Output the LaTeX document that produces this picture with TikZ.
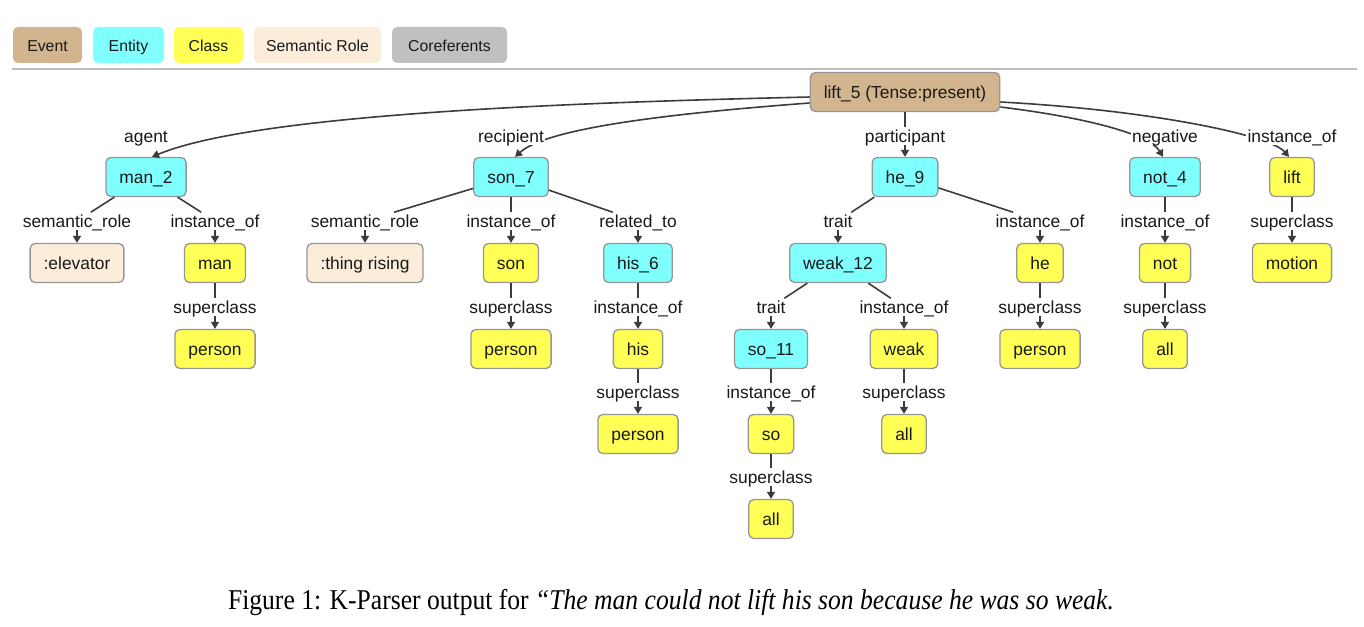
\documentclass[tikz,border=0pt]{standalone}
\usepackage{fontspec}
\setmainfont{Liberation Sans}
\newfontfamily\capfont{Liberation Serif}
\usetikzlibrary{arrows.meta}
\definecolor{evtc}{RGB}{210,181,142}
\definecolor{entc}{RGB}{128,255,255}
\definecolor{clsc}{RGB}{255,255,85}
\definecolor{semc}{RGB}{251,237,218}
\definecolor{corc}{RGB}{192,192,192}
\definecolor{boxline}{RGB}{150,150,150}
\definecolor{edgec}{RGB}{60,60,60}
\definecolor{txt}{RGB}{25,25,25}
\definecolor{rulec}{RGB}{190,190,190}
\begin{document}
\begin{tikzpicture}[x=1pt,y=-1pt,
  box/.style={draw=boxline, line width=1.3pt, rounded corners=5pt, minimum height=39pt,
    inner xsep=13.5pt, inner ysep=0pt, text height=14.5pt, text depth=1.6pt,
    font=\fontsize{17.4}{20}\selectfont, text=txt},
  ent/.style={box, fill=entc},
  cls/.style={box, fill=clsc},
  evn/.style={box, fill=evtc},
  sem/.style={box, fill=semc},
  lab/.style={fill=white, inner xsep=1.5pt, inner ysep=0.5pt, text height=14.5pt, text depth=1.6pt,
    font=\fontsize{17.4}{20}\selectfont, text=txt},
  edge/.style={draw=edgec, line width=1.6pt},
  arr/.style={edge, -{Triangle[length=7pt,width=8pt]}},
  leg/.style={rounded corners=5pt, minimum height=36pt, inner sep=0pt,
    text height=13.4pt, text depth=1.3pt,
    font=\fontsize{15.8}{18}\selectfont, text=txt}
]
\useasboundingbox (0,0) rectangle (1364,626);

% legend
\node[leg, fill=evtc, minimum width=69pt] (legevent) at (47.5,45) {Event};
\node[leg, fill=entc, minimum width=71pt] (legentity) at (128.5,45) {Entity};
\node[leg, fill=clsc, minimum width=69pt] (legclass) at (208.5,45) {Class};
\node[leg, fill=semc, minimum width=127pt] (legsem) at (317.5,45) {Semantic Role};
\node[leg, fill=corc, minimum width=115pt] (legcor) at (449.5,45) {Coreferents};
\coordinate (ruleL) at (12,69);
\coordinate (ruleR) at (1357,69);
\draw[rulec, line width=1.4pt] (ruleL) -- (ruleR);

% level 0
\node[evn] (lift5) at (905,92) {lift\_5 (Tense:present)};
% level 1
\node[ent] (man2) at (146,177) {man\_2};
\node[ent] (son7) at (511,177) {son\_7};
\node[ent] (he9) at (905,177) {he\_9};
\node[ent] (not4) at (1165,177) {not\_4};
\node[cls] (liftc) at (1292,177) {lift};
% level 2
\node[sem] (elev) at (77,263) {:elevator};
\node[cls] (man) at (215,263) {man};
\node[sem] (thing) at (365,263) {:thing rising};
\node[cls] (son) at (511,263) {son};
\node[ent] (his6) at (638,263) {his\_6};
\node[ent] (weak12) at (838,263) {weak\_12};
\node[cls] (he) at (1040,263) {he};
\node[cls] (not) at (1165,263) {not};
\node[cls] (motion) at (1292,263) {motion};
% level 3
\node[cls] (person1) at (215,349) {person};
\node[cls] (person2) at (511,349) {person};
\node[cls] (his) at (638,349) {his};
\node[ent] (so11) at (771,349) {so\_11};
\node[cls] (weak) at (904,349) {weak};
\node[cls] (person3) at (1040,349) {person};
\node[cls] (all1) at (1165,349) {all};
% level 4
\node[cls] (person4) at (638,434) {person};
\node[cls] (so) at (771,434) {so};
\node[cls] (all2) at (904,434) {all};
% level 5
\node[cls] (all3) at (771,519) {all};

% curved top edges
\draw[arr] ([yshift=-5pt]lift5.west) .. controls (600,102) and (260,112) .. ([xshift=6pt]man2.north);
\draw[arr] ([yshift=-11pt]lift5.west) .. controls (650,115) and (545,130) .. ([xshift=4pt]son7.north);
\draw[arr] ([yshift=-15pt]lift5.east) .. controls (1090,118) and (1150,135) .. ([xshift=-2pt]not4.north);
\draw[arr] ([yshift=-10pt]lift5.east) .. controls (1150,110) and (1270,135) .. ([xshift=-3pt]liftc.north);

% labels
\node[lab] (lagent) at (146,136) {agent};
\node[lab] (lrecip) at (511,136) {recipient};
\node[lab] (lpart) at (905,136) {participant};
\node[lab] (lneg) at (1165,136) {negative};
\node[lab] (linst0) at (1292,136) {instance\_of};

\node[lab] (lsr1) at (77,221) {semantic\_role};
\node[lab] (lio1) at (215,221) {instance\_of};
\node[lab] (lsr2) at (365,221) {semantic\_role};
\node[lab] (lio2) at (511,221) {instance\_of};
\node[lab] (lrel) at (638,221) {related\_to};
\node[lab] (ltr1) at (838,221) {trait};
\node[lab] (lio3) at (1040,221) {instance\_of};
\node[lab] (lio4) at (1165,221) {instance\_of};
\node[lab] (lsc0) at (1292,221) {superclass};

\node[lab] (lsc1) at (215,307) {superclass};
\node[lab] (lsc2) at (511,307) {superclass};
\node[lab] (lio5) at (638,307) {instance\_of};
\node[lab] (ltr2) at (771,307) {trait};
\node[lab] (lio6) at (904,307) {instance\_of};
\node[lab] (lsc3) at (1040,307) {superclass};
\node[lab] (lsc4) at (1165,307) {superclass};

\node[lab] (lsc5) at (638,392) {superclass};
\node[lab] (lio7) at (771,392) {instance\_of};
\node[lab] (lsc6) at (904,392) {superclass};

\node[lab] (lsc7) at (771,477) {superclass};

% edges through labels
\draw[edge] (lift5) -- (lpart); \draw[arr] (lpart) -- (he9);
\draw[edge] (liftc) -- (lsc0); \draw[arr] (lsc0) -- (motion);

\draw[edge] (man2) -- (lsr1); \draw[arr] (lsr1) -- (elev);
\draw[edge] (man2) -- (lio1); \draw[arr] (lio1) -- (man);
\draw[edge] (son7) -- (lsr2); \draw[arr] (lsr2) -- (thing);
\draw[edge] (son7) -- (lio2); \draw[arr] (lio2) -- (son);
\draw[edge] (son7) -- (lrel); \draw[arr] (lrel) -- (his6);
\draw[edge] (he9) -- (ltr1); \draw[arr] (ltr1) -- (weak12);
\draw[edge] (he9) -- (lio3); \draw[arr] (lio3) -- (he);
\draw[edge] (not4) -- (lio4); \draw[arr] (lio4) -- (not);

\draw[edge] (man) -- (lsc1); \draw[arr] (lsc1) -- (person1);
\draw[edge] (son) -- (lsc2); \draw[arr] (lsc2) -- (person2);
\draw[edge] (his6) -- (lio5); \draw[arr] (lio5) -- (his);
\draw[edge] (weak12) -- (ltr2); \draw[arr] (ltr2) -- (so11);
\draw[edge] (weak12) -- (lio6); \draw[arr] (lio6) -- (weak);
\draw[edge] (he) -- (lsc3); \draw[arr] (lsc3) -- (person3);
\draw[edge] (not) -- (lsc4); \draw[arr] (lsc4) -- (all1);

\draw[edge] (his) -- (lsc5); \draw[arr] (lsc5) -- (person4);
\draw[edge] (so11) -- (lio7); \draw[arr] (lio7) -- (so);
\draw[edge] (weak) -- (lsc6); \draw[arr] (lsc6) -- (all2);

\draw[edge] (so) -- (lsc7); \draw[arr] (lsc7) -- (all3);

% caption
\node[anchor=base, inner sep=0pt, font=\capfont\fontsize{25.6}{30}\selectfont] (cap) at (671,609)
  {\scalebox{1}[1.12]{Figure 1: K-Parser output for \textit{“The man could not lift his son because he was so weak.}}};
\end{tikzpicture}
\end{document}
